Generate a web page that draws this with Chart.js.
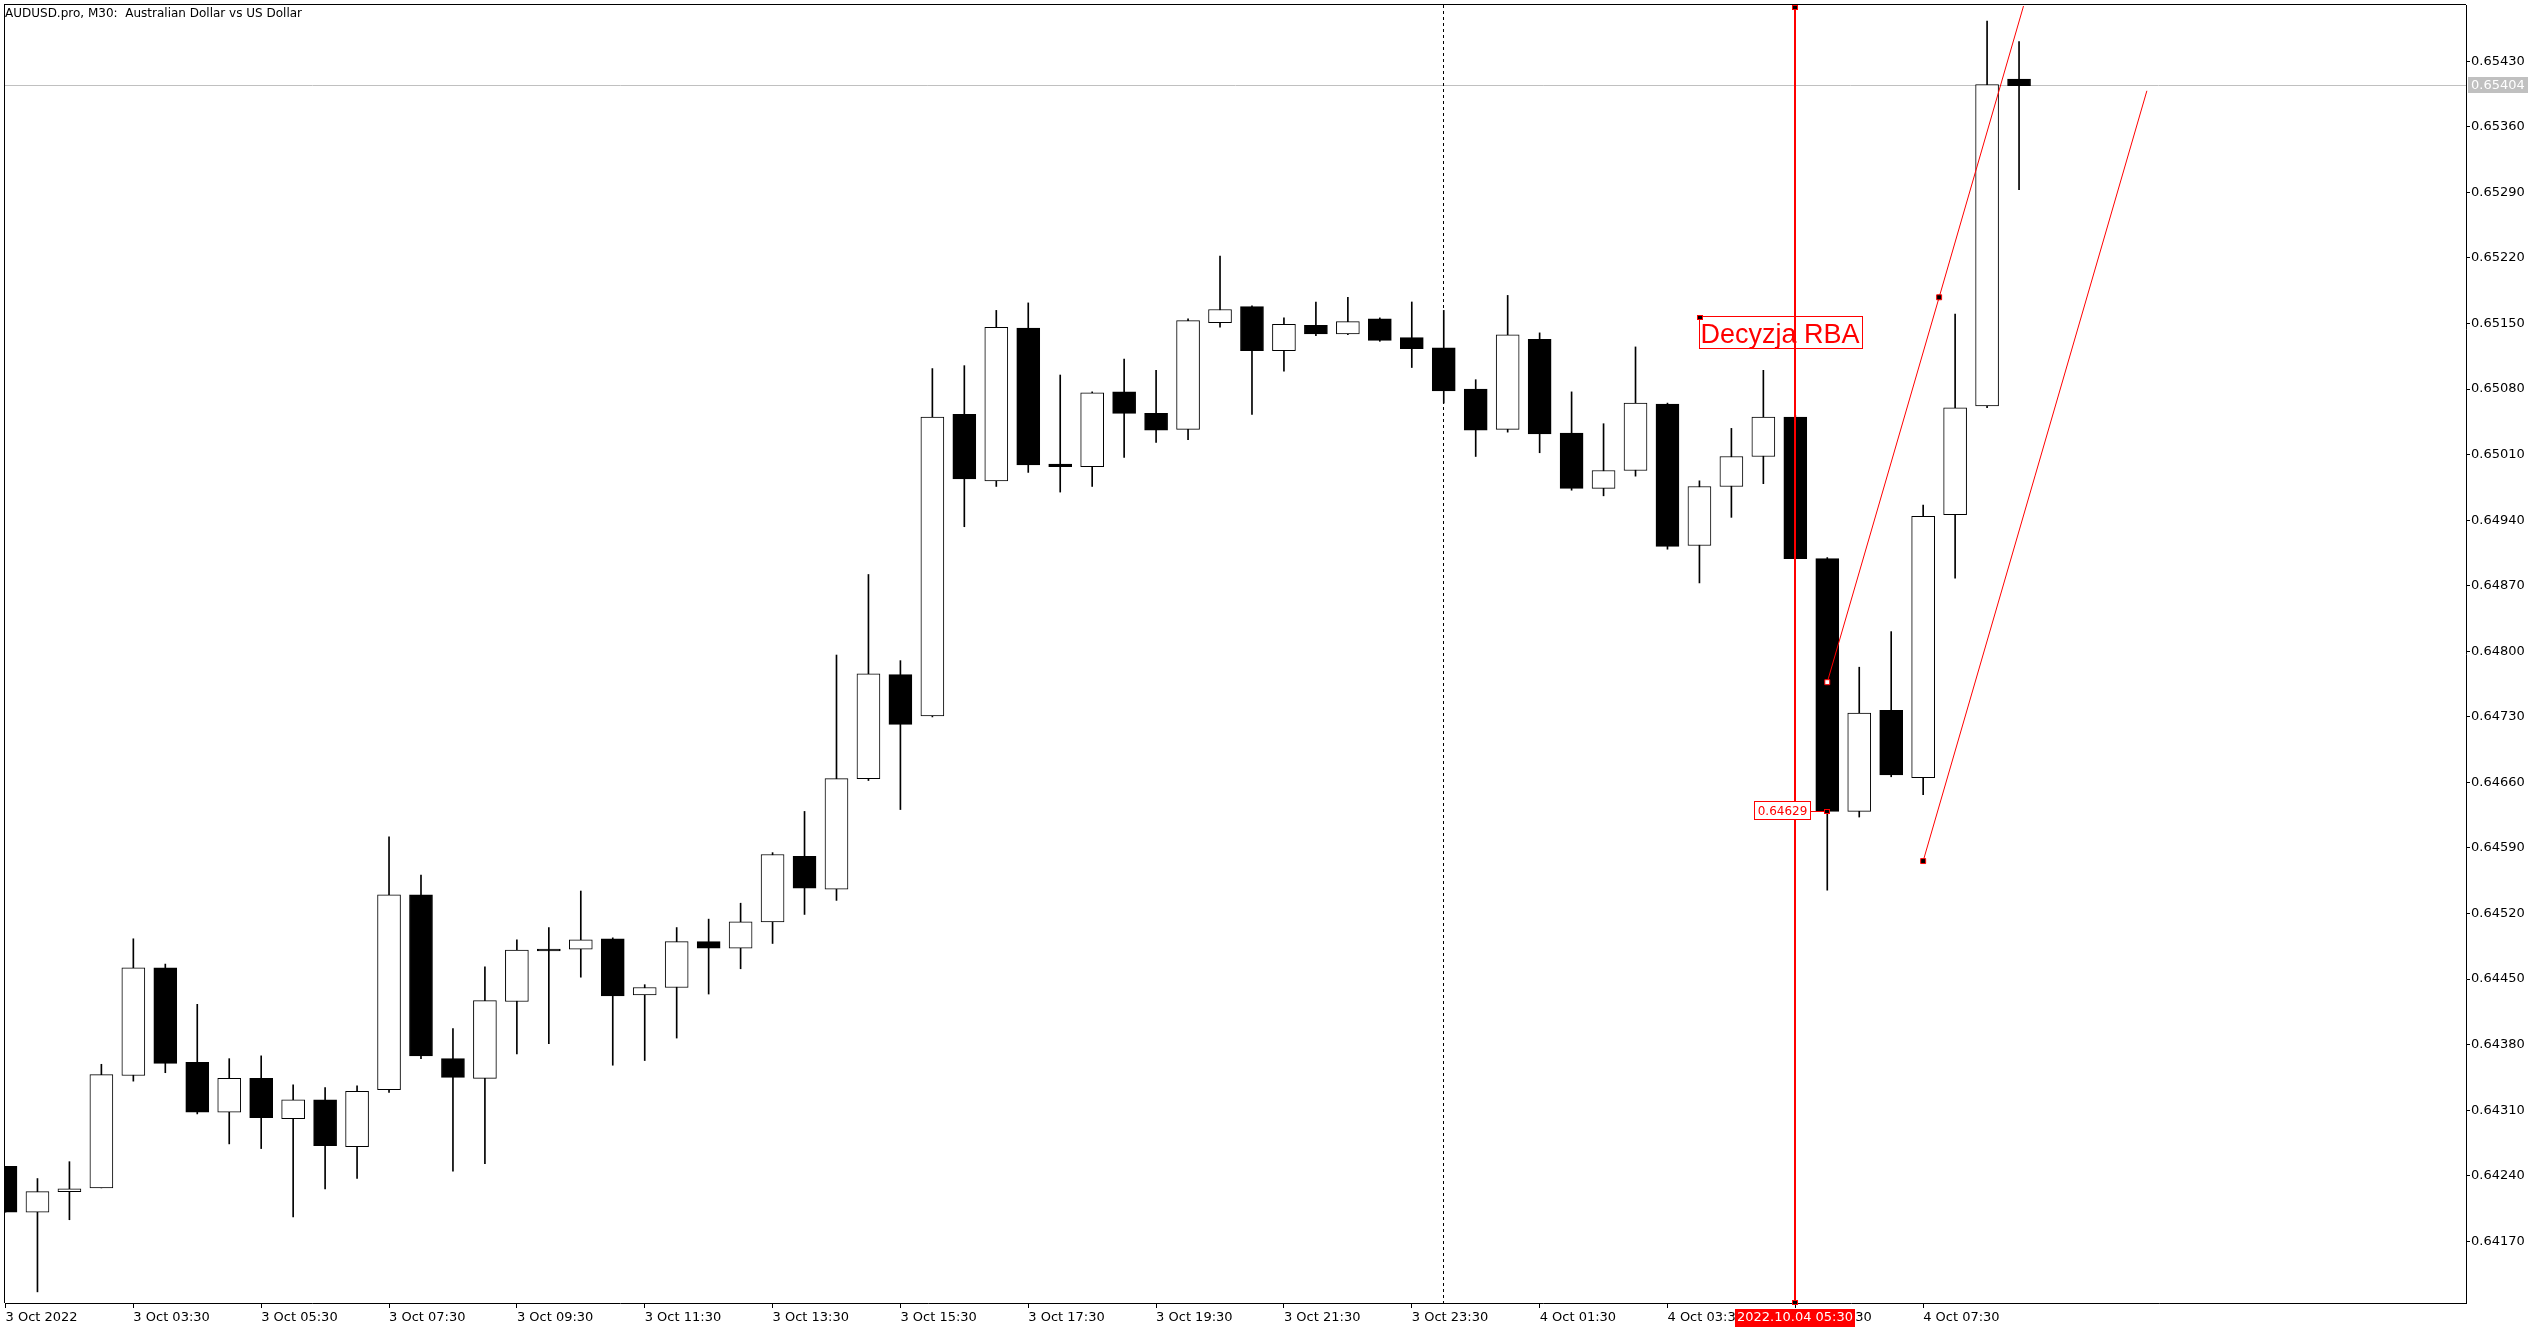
<!DOCTYPE html>
<html>
<head>
<meta charset="utf-8">
<script src="https://cdn.jsdelivr.net/npm/chart.js@4.4.1/dist/chart.umd.min.js"></script>
<style>
  html, body { margin: 0; padding: 0; background: #fff; }
  canvas { display: block; }
</style>
</head>
<body>
<canvas id="audusd" width="2544" height="1332"></canvas>
<script>
// AUDUSD.pro M30, one entry per candle, index 0 = first candle on screen
var open = [0.64250,0.64201,0.64223,0.64227,0.64347,0.64462,0.64361,0.64308,0.64344,0.64301,
  0.64321,0.64271,0.64332,0.64540,0.64365,0.64344,0.64426,0.64482,0.64482,0.64493,
  0.64433,0.64441,0.64490,0.64483,0.64511,0.64581,0.64546,0.64664,0.64775,0.64731,
  0.65053,0.64982,0.65145,0.65000,0.64997,0.65077,0.65054,0.65037,0.65151,0.65168,
  0.65121,0.65148,0.65139,0.65155,0.65135,0.65124,0.65080,0.65037,0.65133,0.65033,
  0.64974,0.64993,0.65064,0.64913,0.64976,0.65008,0.65050,0.64899,0.64629,0.64737,
  0.64665,0.64946,0.65062,0.65411];
var high = [0.64250,0.64237,0.64255,0.64359,0.64493,0.64466,0.64423,0.64365,0.64368,0.64337,
  0.64334,0.64336,0.64602,0.64561,0.64397,0.64463,0.64492,0.64505,0.64544,0.64494,
  0.64444,0.64505,0.64514,0.64531,0.64585,0.64629,0.64796,0.64882,0.64790,0.65102,
  0.65105,0.65164,0.65172,0.65095,0.65077,0.65112,0.65100,0.65155,0.65222,0.65169,
  0.65156,0.65173,0.65178,0.65156,0.65173,0.65164,0.65090,0.65180,0.65140,0.65077,
  0.65043,0.65125,0.65065,0.64982,0.65038,0.65100,0.65052,0.64900,0.64783,0.64821,
  0.64956,0.65160,0.65473,0.65451];
var low = [0.64201,0.64116,0.64193,0.64227,0.64341,0.64350,0.64306,0.64274,0.64269,0.64196,
  0.64226,0.64237,0.64329,0.64365,0.64245,0.64253,0.64370,0.64381,0.64452,0.64358,
  0.64363,0.64387,0.64434,0.64461,0.64488,0.64519,0.64534,0.64662,0.64631,0.64730,
  0.64933,0.64976,0.64991,0.64970,0.64976,0.65007,0.65023,0.65026,0.65146,0.65053,
  0.65099,0.65137,0.65138,0.65131,0.65103,0.65065,0.65008,0.65034,0.65012,0.64972,
  0.64966,0.64987,0.64909,0.64873,0.64943,0.64979,0.64899,0.64545,0.64623,0.64666,
  0.64647,0.64878,0.65060,0.65293];
var close = [0.64201,0.64223,0.64226,0.64348,0.64462,0.64360,0.64308,0.64344,0.64302,0.64321,
  0.64272,0.64330,0.64540,0.64368,0.64345,0.64427,0.64481,0.64480,0.64492,0.64432,
  0.64441,0.64490,0.64483,0.64511,0.64583,0.64547,0.64664,0.64776,0.64722,0.65050,
  0.64984,0.65146,0.64999,0.64997,0.65076,0.65054,0.65036,0.65153,0.65165,0.65121,
  0.65149,0.65139,0.65152,0.65132,0.65123,0.65078,0.65036,0.65138,0.65032,0.64974,
  0.64993,0.65065,0.64912,0.64976,0.65008,0.65050,0.64899,0.64629,0.64734,0.64668,
  0.64944,0.65060,0.65405,0.65404];

// time axis: a label every 4th candle
var timeTickIdx = [0, 4, 8, 12, 16, 20, 24, 28, 32, 36, 40, 44, 48, 52, 56, 60];
var timeTickLabels = ["3 Oct 2022", "3 Oct 03:30", "3 Oct 05:30", "3 Oct 07:30", "3 Oct 09:30",
  "3 Oct 11:30", "3 Oct 13:30", "3 Oct 15:30", "3 Oct 17:30", "3 Oct 19:30", "3 Oct 21:30",
  "3 Oct 23:30", "4 Oct 01:30", "4 Oct 03:30", "4 Oct 05:30", "4 Oct 07:30"];

var priceTicks = ["0.64170", "0.64240", "0.64310", "0.64380", "0.64450", "0.64520", "0.64590",
  "0.64660", "0.64730", "0.64800", "0.64870", "0.64940", "0.65010", "0.65080", "0.65150",
  "0.65220", "0.65290", "0.65360", "0.65430"];

// objects drawn on the chart
var bidPrice = 0.65404;
var daySeparator = 45;
var rbaCandle = 56;
var rbaTimeLabel = "2022.10.04 05:30";
var rbaNote = { x: 53, y: 0.65158, text: "Decyzja RBA" };
var closeLabel = { x: 57, y: 0.64629, text: "0.64629" };
var channelUpper = [{ x: 57, y: 0.64767 }, { x: 60.5, y: 0.65178 }, { x: 63.14, y: 0.65489 }];
var channelLower = [{ x: 60, y: 0.64576 }, { x: 67, y: 0.653985 }];

var FONT = "'DejaVu Sans', sans-serif";
Chart.defaults.font.family = FONT;
Chart.defaults.color = '#000';

var bodies = open.map(function (o, i) { return { x: i, y: [o, close[i]] }; });
var wicks = low.map(function (l, i) { return { x: i, y: [l, high[i]] }; });
var bodyFill = open.map(function (o, i) { return close[i] > o ? '#ffffff' : '#000000'; });

function marker(ctx, x, y, hollow) {
  ctx.fillStyle = '#ff0000';
  ctx.fillRect(Math.round(x) - 3, Math.round(y) - 2, 6, 5);
  ctx.fillStyle = hollow ? '#ffffff' : '#000000';
  ctx.fillRect(Math.round(x) - 2, Math.round(y) - 1, 4, 3);
}

// keep the plot area exactly where the terminal has it
function fixBox(size) {
  return function (s) {
    if (s.isHorizontal()) { s.height = size; } else { s.width = size; }
    s.paddingTop = 0; s.paddingBottom = 0; s.paddingLeft = 0; s.paddingRight = 0;
  };
}

var overlay = {
  id: 'overlay',
  beforeDatasetsDraw: function (chart) {
    var ctx = chart.ctx, a = chart.chartArea, xs = chart.scales.x, ys = chart.scales.y;
    ctx.save();
    ctx.lineWidth = 1;
    // bid line
    var by = Math.floor(ys.getPixelForValue(bidPrice)) + 0.5;
    ctx.strokeStyle = '#c0c0c0';
    ctx.beginPath(); ctx.moveTo(a.left, by); ctx.lineTo(a.right, by); ctx.stroke();
    // day separator
    var sx = Math.floor(xs.getPixelForValue(daySeparator)) + 0.5;
    ctx.strokeStyle = '#000';
    ctx.setLineDash([3, 3]);
    ctx.beginPath(); ctx.moveTo(sx, a.top); ctx.lineTo(sx, a.bottom); ctx.stroke();
    ctx.restore();
  },
  afterDatasetsDraw: function (chart) {
    var ctx = chart.ctx, a = chart.chartArea, xs = chart.scales.x, ys = chart.scales.y;
    ctx.save();
    // RBA vertical line
    var vx = Math.floor(xs.getPixelForValue(rbaCandle));
    ctx.fillStyle = '#ff0000';
    ctx.fillRect(vx - 1, a.top, 2, a.bottom - a.top);
    marker(ctx, vx, a.top + 2, false);
    marker(ctx, vx, a.bottom - 1, false);

    // text note
    var nx = Math.floor(xs.getPixelForValue(rbaNote.x)) + 0.5;
    var ny = Math.floor(ys.getPixelForValue(rbaNote.y)) + 0.5;
    ctx.font = "27px 'Liberation Sans', Arial, sans-serif";
    var tw = ctx.measureText(rbaNote.text).width;
    ctx.fillStyle = '#ff0000';
    ctx.textBaseline = 'alphabetic';
    ctx.textAlign = 'left';
    ctx.fillText(rbaNote.text, nx + 1, ny + 26);
    ctx.strokeStyle = '#ff0000';
    ctx.lineWidth = 1;
    ctx.strokeRect(nx, ny, Math.round(tw) + 4, 32);
    marker(ctx, nx, ny, false);

    // left price label
    var lx = xs.getPixelForValue(closeLabel.x);
    var ly = ys.getPixelForValue(closeLabel.y);
    var bx = Math.round(lx) - 72.5, bw = 56, bh = 18, btop = Math.round(ly) - 9.5;
    ctx.fillStyle = '#ffffff';
    ctx.fillRect(bx, btop, bw, bh);
    ctx.strokeRect(bx, btop, bw, bh);
    ctx.beginPath(); ctx.moveTo(bx + bw, Math.round(ly) + 0.5); ctx.lineTo(lx, Math.round(ly) + 0.5); ctx.stroke();
    ctx.font = '12px ' + FONT;
    ctx.fillStyle = '#ff0000';
    ctx.textAlign = 'center';
    ctx.textBaseline = 'middle';
    ctx.fillText(closeLabel.text, bx + bw / 2, btop + bh / 2 + 1);
    marker(ctx, lx, ly, false);
    ctx.restore();
  },
  afterDraw: function (chart) {
    var ctx = chart.ctx, a = chart.chartArea, xs = chart.scales.x, ys = chart.scales.y;
    ctx.save();
    // frame top and left
    ctx.fillStyle = '#000';
    ctx.fillRect(a.left - 1, a.top - 1, a.right - a.left + 1, 1);
    ctx.fillRect(a.left - 1, a.top - 1, 1, a.bottom - a.top + 1);

    // title
    ctx.font = '12px ' + FONT;
    ctx.textAlign = 'left';
    ctx.textBaseline = 'alphabetic';
    ctx.fillText('AUDUSD.pro, M30:  Australian Dollar vs US Dollar', 5, 17);

    // bid label on price axis
    var by = Math.floor(ys.getPixelForValue(bidPrice));
    ctx.fillStyle = '#c0c0c0';
    ctx.fillRect(a.right + 2, by - 8, 60, 16);
    ctx.fillStyle = '#ffffff';
    ctx.font = '13px ' + FONT;
    ctx.textBaseline = 'middle';
    ctx.fillText(bidPrice.toFixed(5), a.right + 5, by + 1);

    // time label of the RBA line
    var vx = Math.floor(xs.getPixelForValue(rbaCandle));
    ctx.fillStyle = '#ff0000';
    ctx.fillRect(vx - 60, a.bottom + 6, 120, 18);
    ctx.fillStyle = '#ffffff';
    ctx.textAlign = 'center';
    ctx.fillText(rbaTimeLabel, vx, a.bottom + 15);
    ctx.restore();
  }
};

new Chart(document.getElementById('audusd'), {
  type: 'bar',
  data: {
    datasets: [
      {
        type: 'line',
        data: channelUpper,
        borderColor: '#ff0000',
        borderWidth: 1,
        pointStyle: 'rect',
        pointRadius: [3.5, 3.5, 0],
        pointBackgroundColor: ['#ffffff', '#000000', '#000000'],
        pointBorderColor: '#ff0000',
        pointBorderWidth: 1,
        order: 1
      },
      {
        type: 'line',
        data: channelLower,
        borderColor: '#ff0000',
        borderWidth: 1,
        pointStyle: 'rect',
        pointRadius: [3.5, 0],
        pointBackgroundColor: '#000000',
        pointBorderColor: '#ff0000',
        pointBorderWidth: 1,
        order: 1
      },
      {
        data: bodies,
        backgroundColor: bodyFill,
        borderColor: '#000000',
        borderWidth: 1,
        borderSkipped: false,
        barThickness: 23,
        grouped: false,
        order: 2
      },
      {
        data: wicks,
        backgroundColor: '#000000',
        borderWidth: 0,
        barThickness: 1,
        grouped: false,
        order: 3
      }
    ]
  },
  options: {
    responsive: false,
    animation: false,
    devicePixelRatio: 1,
    layout: { padding: { left: 2, top: 2, right: 0, bottom: 0 } },
    plugins: { legend: { display: false }, tooltip: { enabled: false } },
    scales: {
      x: {
        type: 'linear',
        position: 'bottom',
        offset: false,
        bounds: 'data',
        min: -0.015625,
        max: 76.984375,
        afterFit: fixBox(29),
        afterBuildTicks: function (s) { s.ticks = timeTickIdx.map(function (v) { return { value: v }; }); },
        ticks: {
          autoSkip: false,
          maxRotation: 0,
          align: 'start',
          padding: 2,
          font: { size: 13 },
          callback: function (v, i) { return timeTickLabels[i]; }
        },
        grid: { display: true, offset: false, drawOnChartArea: false, drawTicks: true, tickLength: 5, color: '#000' },
        border: { display: true, color: '#000', width: 1 }
      },
      y: {
        type: 'linear',
        position: 'right',
        bounds: 'data',
        min: 0.641041,
        max: 0.654901,
        afterFit: fixBox(78),
        afterBuildTicks: function (s) { s.ticks = priceTicks.map(function (t) { return { value: parseFloat(t) }; }); },
        ticks: {
          padding: 1,
          font: { size: 13 },
          callback: function (v, i) { return priceTicks[i]; }
        },
        grid: { display: true, drawOnChartArea: false, drawTicks: true, tickLength: 4, color: '#000' },
        border: { display: true, color: '#000', width: 1 }
      }
    }
  },
  plugins: [overlay]
});
</script>
</body>
</html>
